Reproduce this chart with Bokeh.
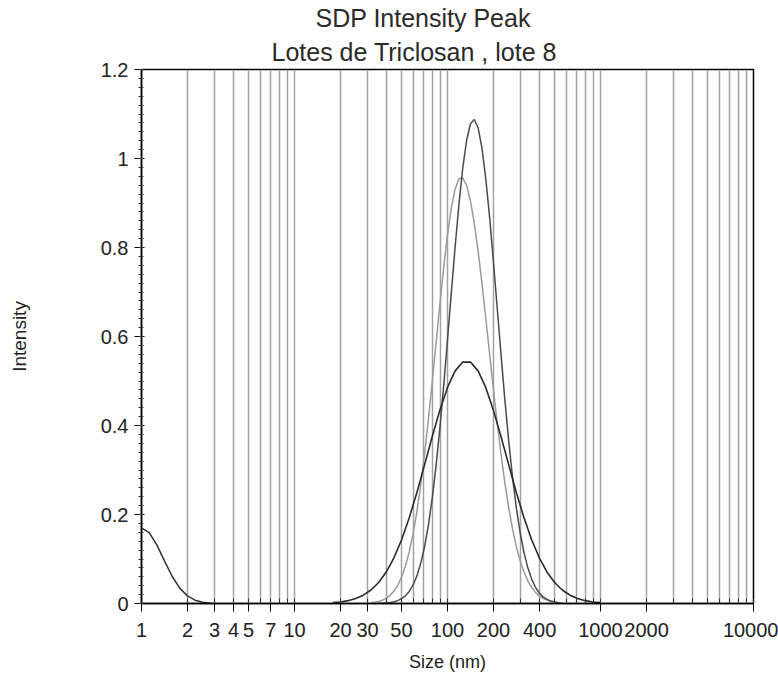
from bokeh.plotting import figure
from bokeh.models import FixedTicker, Title, Range1d
from bokeh.embed import file_html
from bokeh.resources import INLINE

# ---------------- data ----------------
sizes_small = [1.0, 1.122, 1.259, 1.413, 1.585, 1.778, 1.995, 2.239, 2.512, 2.818]
intensity_small = [0.170, 0.1595, 0.1317, 0.0958, 0.0613, 0.0345, 0.0171, 0.0075, 0.0029, 0.0010]

sizes_broad = [17.78, 19.95, 22.39, 25.12, 28.18, 31.62, 35.48, 39.81, 44.67, 50.12,
               56.23, 63.10, 70.79, 79.43, 89.13, 100.0, 112.2, 125.9, 141.3, 158.5,
               177.8, 199.5, 223.9, 251.2, 281.8, 316.2, 354.8, 398.1, 446.7, 501.2,
               562.3, 631.0, 707.9, 794.3, 891.3, 1000.0]
intensity_broad = [0.0019, 0.0035, 0.0064, 0.0112, 0.0187, 0.0303, 0.0473, 0.0709, 0.1027, 0.1433,
                   0.1927, 0.2496, 0.3115, 0.3747, 0.4345, 0.4855, 0.5228, 0.5425, 0.5425, 0.5228,
                   0.4855, 0.4345, 0.3747, 0.3115, 0.2496, 0.1927, 0.1433, 0.1027, 0.0709, 0.0473,
                   0.0303, 0.0187, 0.0112, 0.0064, 0.0035, 0.0019]

sizes_narrow = [31.62, 33.50, 35.48, 37.58, 39.81, 42.17, 44.67, 47.32, 50.12, 53.09,
                56.23, 59.57, 63.10, 66.83, 70.79, 74.99, 79.43, 84.14, 89.13, 94.41,
                100.0, 105.9, 112.2, 118.9, 125.9, 133.4, 141.3, 149.6, 158.5, 167.9,
                177.8, 188.4, 199.5, 211.3, 223.9, 237.1, 251.2, 266.1, 281.8, 298.5,
                316.2, 335.0, 354.8, 375.8, 398.1, 421.7, 446.7, 473.1, 501.2, 530.9,
                562.3]
intensity_grey = [0.0016, 0.0028, 0.0046, 0.0075, 0.0119, 0.0184, 0.0278, 0.0411, 0.0595, 0.0841,
                  0.1160, 0.1566, 0.2066, 0.2663, 0.3356, 0.4131, 0.4971, 0.5846, 0.6718, 0.7546,
                  0.8283, 0.8886, 0.9317, 0.9546, 0.9562, 0.9390, 0.9045, 0.8547, 0.7922, 0.7201,
                  0.6421, 0.5617, 0.4820, 0.4056, 0.3348, 0.2711, 0.2154, 0.1678, 0.1282, 0.0961,
                  0.0707, 0.0510, 0.0360, 0.0250, 0.0170, 0.0114, 0.0075, 0.0048, 0.0030, 0.0019,
                  0.0011]
intensity_tall = [0.0001, 0.0002, 0.0004, 0.0007, 0.0012, 0.0022, 0.0038, 0.0065, 0.0108, 0.0173,
                  0.0272, 0.0416, 0.0620, 0.0901, 0.1275, 0.1757, 0.2360, 0.3088, 0.3937, 0.4891,
                  0.5920, 0.6981, 0.8022, 0.8982, 0.9796, 1.0411, 1.0781, 1.0876, 1.0692, 1.0239,
                  0.9555, 0.8687, 0.7696, 0.6641, 0.5586, 0.4576, 0.3653, 0.2841, 0.2153, 0.1590,
                  0.1144, 0.0802, 0.0548, 0.0364, 0.0236, 0.0149, 0.0092, 0.0055, 0.0032, 0.0018,
                  0.0010]

x_tick_values = [1, 2, 3, 4, 5, 7, 10, 20, 30, 50, 100, 200, 400, 1000, 2000, 10000]
x_tick_labels = ["1", "2", "3", "4", "5", "7", "10", "20", "30", "50", "100", "200", "400",
                 "1000", "2000", "10000"]
x_grid_values = [1, 2, 3, 4, 5, 6, 7, 8, 9,
                 10, 20, 30, 40, 50, 60, 70, 80, 90,
                 100, 200, 300, 400, 500, 600, 700, 800, 900,
                 1000, 2000, 3000, 4000, 5000, 6000, 7000, 8000, 9000, 10000]
y_tick_values = [0, 0.2, 0.4, 0.6, 0.8, 1.0, 1.2]
y_tick_labels = ["0", "0.2", "0.4", "0.6", "0.8", "1", "1.2"]
y_minor_values = [i / 50 for i in range(61)]

title_line1 = "SDP Intensity Peak"
title_line2 = "Lotes de Triclosan , lote 8"

FONT = "Liberation Sans"

p = figure(width=778, height=674, x_axis_type="log",
           x_range=Range1d(1, 10000), y_range=Range1d(0, 1.2),
           output_backend="svg", toolbar_location=None,
           min_border_left=141, min_border_right=25, min_border_top=69, min_border_bottom=71,
           background_fill_color="white", border_fill_color="white")

# titles (the one added later sits closer to the frame)
p.title.text = title_line1
p.title.align = "left"
p.title.offset = 174
p.title.text_font = FONT
p.title.text_font_size = "25px"
p.title.text_font_style = "normal"
p.title.text_color = "#2a2a2a"
p.title.standoff = 0
t2 = Title(text=title_line2, align="left", offset=130, text_font=FONT,
           text_font_size="25px", text_font_style="normal", text_color="#2a2a2a", standoff=8)
p.add_layout(t2, "above")

# grid
p.xgrid.ticker = FixedTicker(ticks=x_grid_values)
p.xgrid.grid_line_color = "#a2a2a2"
p.xgrid.grid_line_width = 1.5
p.ygrid.visible = False
p.outline_line_color = "black"
p.outline_line_width = 1.5
p.outline_line_alpha = 1.0

# x axis
p.xaxis.ticker = FixedTicker(ticks=x_tick_values, minor_ticks=x_grid_values)
p.xaxis.major_label_overrides = {v: l for v, l in zip(x_tick_values, x_tick_labels)}
p.xaxis.axis_label = "Size (nm)"
p.xaxis.axis_label_text_font = FONT
p.xaxis.axis_label_text_font_size = "18px"
p.xaxis.axis_label_text_font_style = "normal"
p.xaxis.axis_label_text_color = "#222222"
p.xaxis.axis_label_standoff = 12
p.xaxis.major_label_text_font = FONT
p.xaxis.major_label_text_font_size = "20px"
p.xaxis.major_label_text_color = "#222222"
p.xaxis.major_label_standoff = 11
p.xaxis.major_tick_out = 8
p.xaxis.major_tick_in = 0
p.xaxis.minor_tick_out = 0
p.xaxis.minor_tick_in = 5
p.xaxis.axis_line_color = "black"
p.xaxis.axis_line_width = 1.5
p.xaxis.major_tick_line_color = "black"
p.xaxis.minor_tick_line_color = "#333333"

# y axis
p.yaxis.ticker = FixedTicker(ticks=y_tick_values, minor_ticks=y_minor_values)
p.yaxis.major_label_overrides = {v: l for v, l in zip(y_tick_values, y_tick_labels)}
p.yaxis.axis_label = "Intensity"
p.yaxis.axis_label_text_font = FONT
p.yaxis.axis_label_text_font_size = "19px"
p.yaxis.axis_label_text_font_style = "normal"
p.yaxis.axis_label_text_color = "#222222"
p.yaxis.axis_label_standoff = 68
p.yaxis.major_label_text_font = FONT
p.yaxis.major_label_text_font_size = "20px"
p.yaxis.major_label_text_color = "#222222"
p.yaxis.major_label_standoff = 6
p.yaxis.major_tick_out = 7
p.yaxis.major_tick_in = 3
p.yaxis.minor_tick_out = 3
p.yaxis.minor_tick_in = 2
p.yaxis.axis_line_color = "black"
p.yaxis.axis_line_width = 1.5
p.yaxis.major_tick_line_color = "black"
p.yaxis.minor_tick_line_color = "#333333"

# curves
p.line(sizes_narrow, intensity_grey, line_color="#9a9a9a", line_width=1.5)
p.line(sizes_narrow, intensity_tall, line_color="#4a4a4a", line_width=1.5)
p.line(sizes_broad, intensity_broad, line_color="#2a2a2a", line_width=1.6)
p.line(sizes_small, intensity_small, line_color="#333333", line_width=1.5)

open("out.html", "w").write(file_html(p, INLINE))
